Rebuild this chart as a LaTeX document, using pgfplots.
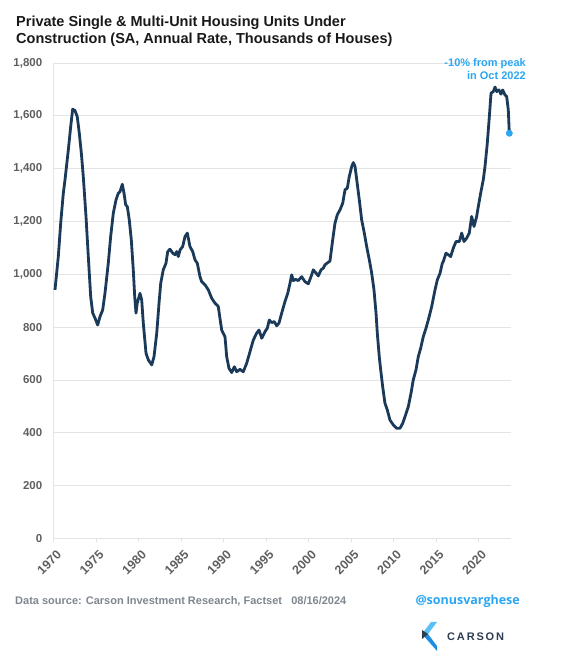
\documentclass[border=0pt]{standalone}
\usepackage{pgfplots}
\pgfplotsset{compat=1.18}
\usepackage{fontspec}
\setmainfont{Liberation Sans}
\newfontfamily\opensans{Open Sans}
\definecolor{navy}{HTML}{1B3A59}
\definecolor{tickgray}{HTML}{5F5F5F}
\definecolor{gridgray}{HTML}{E4E4E4}
\definecolor{annblue}{HTML}{2AA6F2}
\definecolor{footgray}{HTML}{7E868F}
\definecolor{logolight}{HTML}{5BC0F5}
\definecolor{logomid}{HTML}{1E8FE0}
\definecolor{logotext}{HTML}{2E3D4F}
\begin{document}
\begin{tikzpicture}[x=1pt,y=1pt]
\path[use as bounding box] (0,0) rectangle (560,651);
\begin{axis}[
  at={(53.8pt,112.6pt)}, anchor=south west,
  scale only axis, width=456.7pt, height=475.4pt,
  xmin=1970, xmax=2023.73, ymin=0, ymax=1800,
  axis x line*=bottom, axis y line*=left,
  axis line style={-, draw=gridgray, line width=0.8pt},
  xtick={1970,1975,...,2020},
  ytick={0,200,...,1800},
  ymajorgrids, grid style={draw=gridgray, line width=0.8pt},
  tick align=outside, major tick length=4pt,
  xtick style={draw=gridgray, line width=0.8pt},
  ytick style={draw=none},
  /pgf/number format/assume math mode=true,
  /pgf/number format/1000 sep={,},
  xticklabel={\pgfmathprintnumber[1000 sep={}]{\tick}},
  xticklabel style={rotate=45, anchor=east, font=\fontsize{12.5}{14}\selectfont\bfseries, text=tickgray, inner sep=0pt, yshift=-11pt, xshift=-3.5pt},
  yticklabel style={font=\fontsize{11.5}{13}\selectfont\bfseries, text=tickgray, xshift=-4pt},
  clip=false,
]
\addplot[navy, line width=2.8pt, line join=round] coordinates {
(1970.14,941) (1970.53,1067) (1970.81,1193) (1971.12,1307) (1971.32,1358)
(1971.71,1471) (1971.99,1560) (1972.22,1625) (1972.49,1620) (1972.76,1597)
(1973.00,1534) (1973.24,1459) (1973.47,1370) (1973.79,1218) (1974.06,1067)
(1974.34,915) (1974.58,853) (1974.85,834) (1975.16,808) (1975.44,840)
(1975.75,865) (1976.02,928) (1976.41,1042) (1976.69,1143) (1977.00,1231)
(1977.32,1282) (1977.59,1307) (1977.79,1313) (1978.06,1341) (1978.26,1307)
(1978.46,1263) (1978.65,1256) (1978.88,1206) (1979.12,1130) (1979.35,1017)
(1979.52,915) (1979.67,853) (1979.82,891) (1980.14,928) (1980.34,903)
(1980.53,815) (1980.85,701) (1981.12,676) (1981.52,657) (1981.79,688)
(1982.11,777) (1982.38,891) (1982.58,966) (1982.88,1017) (1983.20,1042)
(1983.40,1086) (1983.67,1095) (1983.99,1080) (1984.26,1074) (1984.46,1086)
(1984.65,1067) (1984.85,1092) (1985.16,1105) (1985.44,1143) (1985.71,1156)
(1986.02,1105) (1986.34,1086) (1986.61,1055) (1986.88,1042) (1987.20,991)
(1987.40,972) (1987.79,960) (1988.18,941) (1988.58,909) (1988.96,891)
(1989.35,878) (1989.75,789) (1990.14,764) (1990.34,688) (1990.61,644)
(1990.93,628) (1991.24,650) (1991.52,631) (1991.91,640) (1992.29,631)
(1992.69,663) (1993.08,707) (1993.47,751) (1993.87,777) (1994.14,789)
(1994.46,758) (1994.85,783) (1995.12,796) (1995.35,827) (1995.64,817)
(1995.94,821) (1996.22,805) (1996.49,815) (1996.81,853) (1997.20,897)
(1997.52,928) (1997.79,966) (1997.99,998) (1998.18,976) (1998.46,981)
(1998.76,976) (1999.16,991) (1999.55,972) (1999.94,964) (2000.26,991)
(2000.53,1017) (2000.81,1006) (2001.12,994) (2001.44,1017) (2001.71,1023)
(2001.91,1036) (2002.22,1044) (2002.49,1050) (2002.81,1130) (2003.08,1193)
(2003.35,1225) (2003.67,1244) (2003.99,1269) (2004.26,1320) (2004.53,1326)
(2004.76,1370) (2005.05,1408) (2005.24,1423) (2005.44,1408) (2005.64,1358)
(2005.94,1282) (2006.22,1206) (2006.53,1156) (2006.81,1105) (2007.12,1055)
(2007.40,1004) (2007.67,941) (2007.91,853) (2008.06,777) (2008.29,688)
(2008.46,638) (2008.69,575) (2008.96,512) (2009.24,486) (2009.55,448)
(2009.94,430) (2010.34,417) (2010.73,417) (2011.05,436) (2011.32,461)
(2011.71,499) (2012.02,549) (2012.29,600) (2012.61,638) (2012.88,688)
(2013.16,720) (2013.47,764) (2013.79,796) (2014.06,827) (2014.46,878)
(2014.85,941) (2015.12,979) (2015.44,1004) (2015.71,1042) (2015.82,1048)
(2016.14,1080) (2016.41,1074) (2016.69,1067) (2017.00,1099) (2017.32,1124)
(2017.71,1124) (2017.99,1156) (2018.26,1124) (2018.58,1137) (2018.88,1156)
(2019.16,1219) (2019.44,1181) (2019.75,1219) (2019.94,1256) (2020.22,1307)
(2020.53,1358) (2020.73,1408) (2021.00,1496) (2021.24,1597) (2021.44,1686)
(2021.71,1692) (2021.91,1709) (2022.11,1692) (2022.38,1698) (2022.61,1682)
(2022.81,1698) (2023.08,1679) (2023.28,1673) (2023.47,1623) (2023.59,1534)
};
\addplot[only marks, mark=*, mark size=3.2pt, mark options={fill=annblue, draw=annblue}] coordinates {(2023.59,1534)};
\end{axis}
% title
\node[anchor=base west, inner sep=0pt, font=\fontsize{14.5}{16}\selectfont\bfseries, text=black!90] at (16,624) {Private Single \& Multi-Unit Housing Units Under};
\node[anchor=base west, inner sep=0pt, font=\fontsize{14.5}{16}\selectfont\bfseries, text=black!90] at (16,607) {Construction (SA, Annual Rate, Thousands of Houses)};
% annotation
\node[anchor=base east, inner sep=0pt, font=\fontsize{11}{13}\selectfont\bfseries, text=annblue] at (526,584.5) {-10\% from peak};
\node[anchor=base east, inner sep=0pt, font=\fontsize{11}{13}\selectfont\bfseries, text=annblue] at (526,571.3) {in Oct 2022};
% footer
\node[anchor=base west, inner sep=0pt, font=\fontsize{11}{13}\selectfont\bfseries, text=footgray] at (15,46) {Data source: Carson Investment Research, Factset\ \ \ 08/16/2024};
\node[anchor=base east, inner sep=0pt, font=\opensans\fontsize{12.5}{15}\selectfont\bfseries, text=annblue] at (520,46) {@sonusvarghese};
% logo
\fill[logolight] (437,29) -- (431,29) -- (422,17) -- (428,17) -- cycle;
\fill[logomid] (422,17) -- (428,17) -- (437,5) -- (437,0) -- cycle;
\fill[logotext] (422,21) -- (428,17) -- (422,12) -- cycle;
\node[anchor=west, inner sep=0pt, font=\fontsize{11}{13}\selectfont\bfseries, text=logotext] at (447,14) {C\,A\,R\,S\,O\,N};
\end{tikzpicture}
\end{document}
